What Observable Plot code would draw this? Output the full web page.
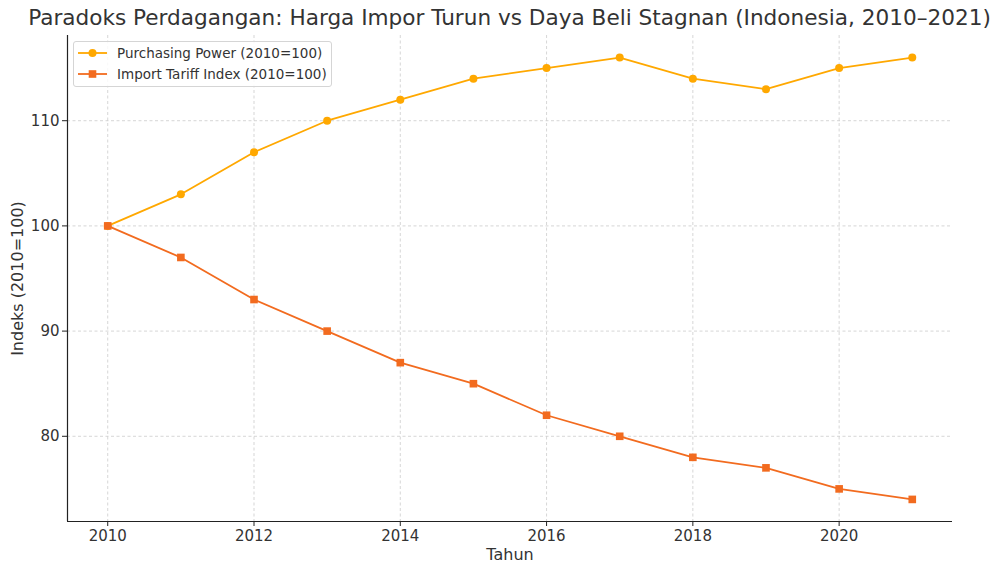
<!DOCTYPE html>
<html>
<head>
<meta charset="utf-8">
<script src="https://cdn.jsdelivr.net/npm/d3@7"></script>
<script src="https://cdn.jsdelivr.net/npm/@observablehq/plot@0.6"></script>
<style>
  html, body { margin: 0; padding: 0; background: #fff; }
  body { font-family: "DejaVu Sans", sans-serif; width: 1000px; height: 573px; overflow: hidden; }
  #wrap { position: relative; width: 1000px; height: 573px; }
  #title { position: absolute; left: 0; top: 5px; width: 1019px; text-align: center; font-size: 21.6px; color: #333; white-space: nowrap; }
  #chart { position: absolute; left: 0; top: 35px; }
  #legend { position: absolute; left: 73px; top: 41px; width: 257px; height: 44px; border: 1px solid #d5d5d5; border-radius: 3px; background: rgba(255,255,255,0.85); font-size: 13.5px; color: #333; }
  .row { position: absolute; left: 0; height: 20px; display: flex; align-items: center; }
  .row span { position: absolute; left: 43px; white-space: nowrap; }
</style>
</head>
<body>
<div id="wrap">
  <div id="title">Paradoks Perdagangan: Harga Impor Turun vs Daya Beli Stagnan (Indonesia, 2010–2021)</div>
  <div id="chart"></div>
  <div id="legend"></div>
</div>
<script>
const years = [2010, 2011, 2012, 2013, 2014, 2015, 2016, 2017, 2018, 2019, 2020, 2021];
const purchasingPower = [100, 103, 107, 110, 112, 114, 115, 116, 114, 113, 115, 116];
const importTariff = [100, 97, 93, 90, 87, 85, 82, 80, 78, 77, 75, 74];
const seriesNames = ["Purchasing Power (2010=100)", "Import Tariff Index (2010=100)"];
const seriesColors = ["#ffa800", "#f26b1f"];
const xTicks = [2010, 2012, 2014, 2016, 2018, 2020];
const yTicks = [80, 90, 100, 110];

const ppData = years.map((y, i) => ({year: y, value: purchasingPower[i]}));
const tiData = years.map((y, i) => ({year: y, value: importTariff[i]}));

const xDomain = [2009.45, 2021.55];
const yDomain = [71.9, 118.1];

const grid = {stroke: "#b0b0b0", strokeOpacity: 0.65, strokeWidth: 0.8, strokeDasharray: "3,2.5"};

const chart = Plot.plot({
  width: 1000,
  height: 538,
  marginTop: 0,
  marginBottom: 52,
  marginLeft: 67,
  marginRight: 48,
  style: {fontFamily: "DejaVu Sans, sans-serif", color: "#333", background: "white", fontSize: "15px"},
  x: {domain: xDomain, axis: null},
  y: {domain: yDomain, axis: null},
  marks: [
    Plot.ruleX(xTicks, {...grid}),
    Plot.ruleY(yTicks, {...grid}),
    Plot.axisX(xTicks, {label: null, tickSize: 5, tickPadding: 4, tickFormat: d3.format("d"), fontSize: 15, stroke: "#222", fill: "#333", strokeWidth: 1}),
    Plot.axisY(yTicks, {label: null, tickSize: 5, tickPadding: 3, fontSize: 15, stroke: "#222", fill: "#333", strokeWidth: 1}),
    Plot.ruleX([xDomain[0]], {stroke: "#222", strokeWidth: 1.2}),
    Plot.ruleY([yDomain[0]], {stroke: "#222", strokeWidth: 1.2}),
    Plot.lineY(ppData, {x: "year", y: "value", stroke: seriesColors[0], strokeWidth: 1.8}),
    Plot.dot(ppData, {x: "year", y: "value", fill: seriesColors[0], r: 4, symbol: "circle"}),
    Plot.lineY(tiData, {x: "year", y: "value", stroke: seriesColors[1], strokeWidth: 1.8}),
    Plot.dot(tiData, {x: "year", y: "value", fill: seriesColors[1], r: 4.3, symbol: "square"}),
    Plot.text(["Tahun"], {frameAnchor: "bottom", dy: 38, fontSize: 16, fill: "#333"}),
    Plot.text(["Indeks (2010=100)"], {frameAnchor: "left", dx: -50, rotate: -90, textAnchor: "middle", fontSize: 16, fill: "#333"})
  ]
});
document.getElementById("chart").appendChild(chart);

// legend
const legend = document.getElementById("legend");
const symbols = ["circle", "square"];
seriesNames.forEach((name, i) => {
  const row = document.createElement("div");
  row.className = "row";
  row.style.top = (1 + i * 21) + "px";
  const ns = "http://www.w3.org/2000/svg";
  const svg = document.createElementNS(ns, "svg");
  svg.setAttribute("width", "40"); svg.setAttribute("height", "20");
  const ln = document.createElementNS(ns, "line");
  ln.setAttribute("x1", 4); ln.setAttribute("x2", 33); ln.setAttribute("y1", 10); ln.setAttribute("y2", 10);
  ln.setAttribute("stroke", seriesColors[i]); ln.setAttribute("stroke-width", 1.8);
  svg.appendChild(ln);
  let m;
  if (symbols[i] === "circle") {
    m = document.createElementNS(ns, "circle");
    m.setAttribute("cx", 18.5); m.setAttribute("cy", 10); m.setAttribute("r", 4);
  } else {
    m = document.createElementNS(ns, "rect");
    m.setAttribute("x", 14.7); m.setAttribute("y", 6.2); m.setAttribute("width", 7.6); m.setAttribute("height", 7.6);
  }
  m.setAttribute("fill", seriesColors[i]);
  svg.appendChild(m);
  row.appendChild(svg);
  const t = document.createElement("span");
  t.textContent = name;
  row.appendChild(t);
  legend.appendChild(row);
});
</script>
</body>
</html>
